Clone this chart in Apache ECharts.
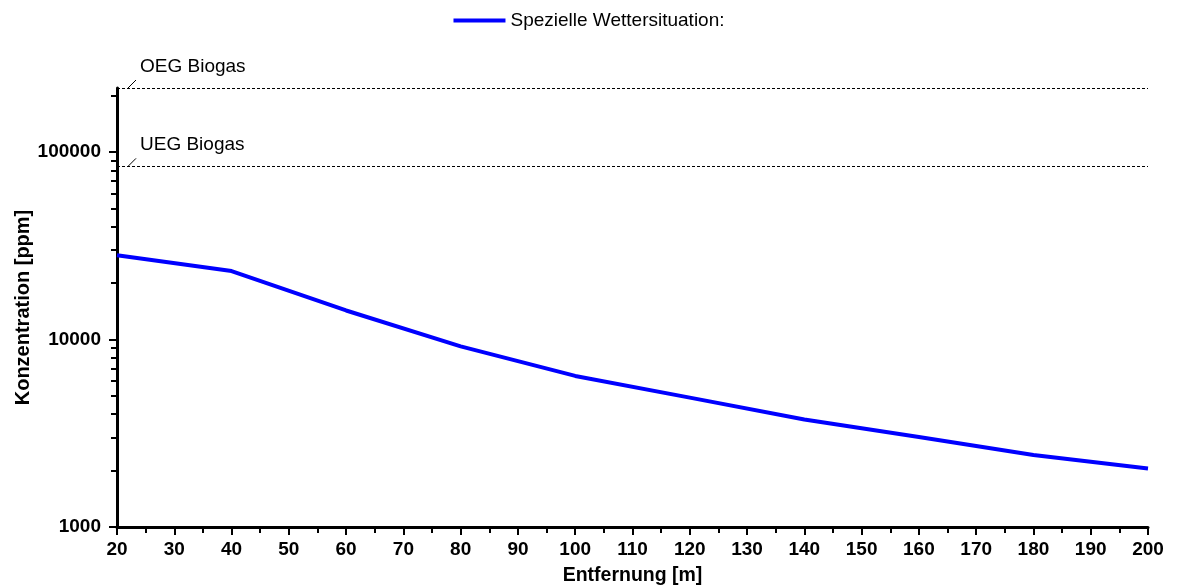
<!DOCTYPE html>
<html>
<head>
<meta charset="utf-8">
<script src="https://cdn.jsdelivr.net/npm/echarts@6/dist/echarts.min.js"></script>
<style>
    html, body {margin: 0; padding: 0; background: #fff;}
    #container {width: 1178px; height: 586px;}
</style>
</head>
<body>
<div id="container"></div>
<script>
// Entfernung [m]
var distances = [20, 40, 60, 80, 100, 120, 140, 160, 180, 200];
// Konzentration [ppm]
var concentration = [28200, 23200, 14300, 9200, 6400, 4900, 3750, 3020, 2420, 2050];
var seriesName = 'Spezielle Wettersituation:';

var majorTicksY = [1000, 10000, 100000];
var minorTicksY = [2000, 3000, 4000, 5000, 6000, 7000, 8000, 9000,
    20000, 30000, 40000, 50000, 60000, 70000, 80000, 90000, 200000];

var limitNames = ['OEG Biogas', 'UEG Biogas'];
var limitValues = [220000, 84000];

var font = 'Liberation Sans, Arial, sans-serif';

function createChart() {
    var dom = document.getElementById('container');
    var myChart = echarts.init(dom, null, {renderer: 'canvas'});

    var seriesData = [];
    for (var i in distances) {
        seriesData.push([distances[i], concentration[i]]);
    }

    var markData = [];
    for (var j in limitValues) {
        markData.push({
            yAxis: limitValues[j],
            label: {formatter: limitNames[j]}
        });
    }

    var option = {
        animation: false,
        backgroundColor: '#fff',
        textStyle: {fontFamily: font},
        legend: {
            top: 6,
            left: 'center',
            icon: 'rect',
            itemWidth: 52,
            itemHeight: 4,
            itemGap: 7,
            textStyle: {fontFamily: font, fontSize: 19, color: '#000'},
            data: [seriesName]
        },
        grid: {
            left: 117,
            right: 30,
            top: 88,
            bottom: 59,
            containLabel: false,
            outerBoundsMode: 'none'
        },
        xAxis: {
            type: 'value',
            min: 20,
            max: 200,
            interval: 10,
            name: 'Entfernung [m]',
            nameLocation: 'middle',
            nameGap: 39,
            nameMoveOverlap: false,
            nameTextStyle: {fontFamily: font, fontSize: 19.5, fontWeight: 'bold', color: '#000'},
            axisLine: {lineStyle: {color: '#000', width: 3}},
            axisTick: {length: 8, lineStyle: {color: '#000', width: 2}},
            minorTick: {show: true, splitNumber: 2, length: 6, lineStyle: {color: '#000', width: 2}},
            axisLabel: {fontFamily: font, fontSize: 19, fontWeight: 'bold', color: '#000', margin: 13},
            splitLine: {show: false}
        },
        yAxis: [
            {
                type: 'log',
                logBase: 10,
                min: 1000,
                max: 220000,
                name: 'Konzentration [ppm]',
                nameLocation: 'middle',
                nameGap: 84,
                nameMoveOverlap: false,
                nameTextStyle: {fontFamily: font, fontSize: 20, fontWeight: 'bold', color: '#000'},
                axisLine: {show: true, lineStyle: {color: '#000', width: 3}},
                axisTick: {show: true, length: 8, customValues: majorTicksY, lineStyle: {color: '#000', width: 2}},
                axisLabel: {
                    customValues: majorTicksY,
                    formatter: function (v) {
                        return String(Math.round(v));
                    },
                    fontFamily: font, fontSize: 19, fontWeight: 'bold', color: '#000', margin: 16
                },
                splitLine: {show: false}
            },
            {
                type: 'log',
                logBase: 10,
                min: 1000,
                max: 220000,
                position: 'left',
                axisLine: {show: false},
                axisTick: {show: true, length: 6, customValues: minorTicksY, lineStyle: {color: '#000', width: 2}},
                axisLabel: {show: false},
                splitLine: {show: false}
            }
        ],
        series: [
            {
                name: seriesName,
                type: 'line',
                yAxisIndex: 0,
                showSymbol: false,
                symbol: 'none',
                color: '#0000ff',
                lineStyle: {color: '#0000ff', width: 4},
                data: seriesData,
                markLine: {
                    silent: true,
                    symbol: ['none', 'none'],
                    lineStyle: {color: '#000', width: 1, type: [3, 2]},
                    label: {
                        position: 'insideStartTop',
                        distance: [23, 12],
                        fontFamily: font,
                        fontSize: 19,
                        color: '#000'
                    },
                    data: markData
                }
            }
        ]
    };
    myChart.setOption(option, true);

    // kleine Hinweisstriche zu den Grenzlinien
    var leaders = [];
    for (var k in limitValues) {
        var p = myChart.convertToPixel({xAxisIndex: 0, yAxisIndex: 0}, [distances[0], limitValues[k]]);
        leaders.push({
            type: 'line',
            shape: {x1: p[0] + 11, y1: p[1], x2: p[0] + 19, y2: p[1] - 8},
            style: {stroke: '#000', lineWidth: 1}
        });
    }
    myChart.setOption({graphic: leaders});
}

createChart();
</script>
</body>
</html>
